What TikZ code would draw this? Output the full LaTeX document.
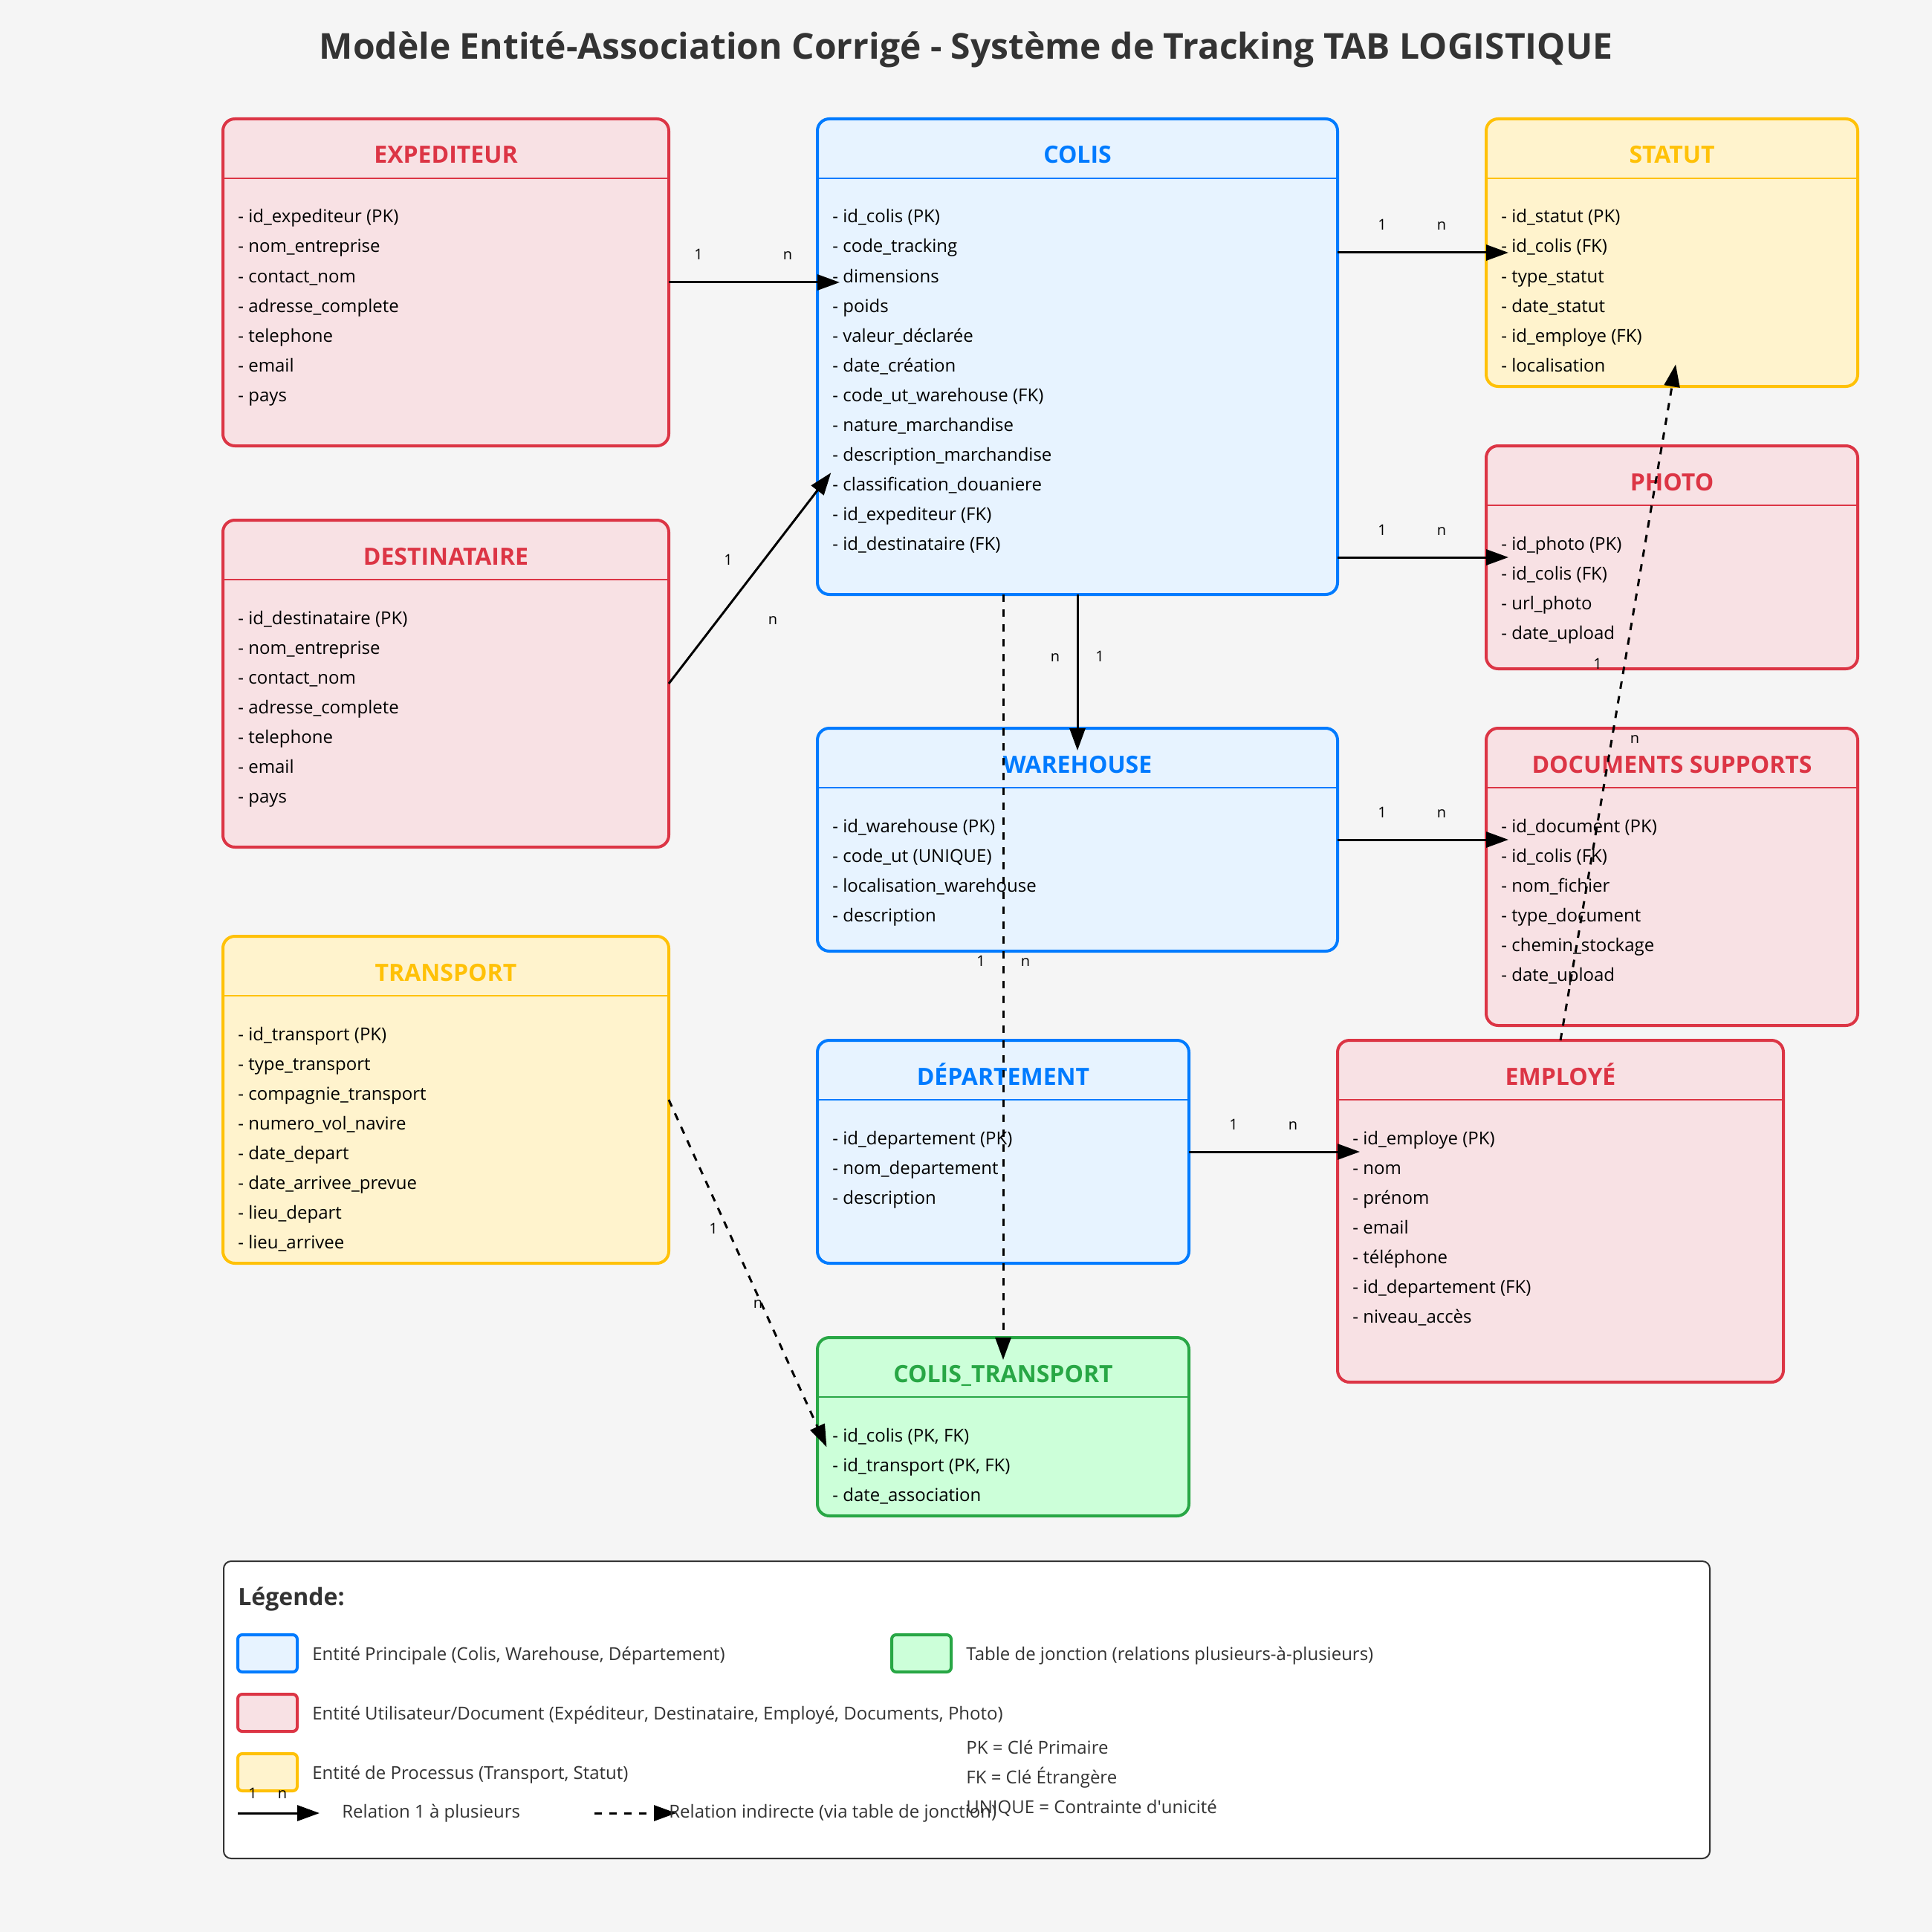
\documentclass[tikz,border=0pt]{standalone}
\usepackage{fontspec}
\setmainfont{Open Sans}
\usetikzlibrary{arrows.meta,calc}
\definecolor{fond}{HTML}{F5F5F5}
\definecolor{gris}{HTML}{333333}
\definecolor{bleu}{HTML}{007BFF}
\definecolor{bleufond}{HTML}{E7F3FF}
\definecolor{rouge}{HTML}{DC3545}
\definecolor{rougefond}{HTML}{F8E1E4}
\definecolor{jaune}{HTML}{FFC107}
\definecolor{jaunefond}{HTML}{FFF3CD}
\definecolor{vert}{HTML}{28A745}
\definecolor{vertfond}{HTML}{CCFFD9}
% name, x, y, width, height, colour, title, attributes
\newcommand{\entite}[8]{%
	\node[entite, draw=#6, fill=#6fond, minimum width=#4pt, minimum height=#5pt] (#1) at (#2,#3) {};
	\draw[#6, line width=1pt] ([yshift=-40pt]#1.north west) -- ([yshift=-40pt]#1.north east);
	\node[titre, text=#6] (#1-titre) at ([yshift=-30pt]#1.north) {#7};
	\foreach \a [count=\i] in {#8}
		\node[attribut] (#1-\i) at ([shift={(10,{70+20*(\i-1)})}]#1.north west) {- \a};
}
\begin{document}
\begin{tikzpicture}[x=1pt, y=-1pt,
		entite/.style={rectangle, rounded corners=8pt, line width=2pt, anchor=north west, inner sep=0pt, outer sep=0pt},
		titre/.style={anchor=base, inner sep=0pt, font=\bfseries\fontsize{16}{19}\selectfont},
		attribut/.style={anchor=base west, inner sep=0pt, font=\fontsize{12}{14}\selectfont},
		card/.style={anchor=base, inner sep=0pt, font=\fontsize{10}{12}\selectfont},
		rel/.style={line width=1.5pt, -{Triangle[length=15pt, width=10.5pt]}, shorten >=-15pt},
		indirect/.style={rel, dash pattern=on 5pt off 5pt},
		legtexte/.style={anchor=base west, inner sep=0pt, text=gris, font=\fontsize{12}{14}\selectfont},
		pastille/.style={rectangle, rounded corners=3pt, line width=2pt, anchor=north west, minimum width=40pt, minimum height=25pt, inner sep=0pt, outer sep=0pt}]
	\fill[fond] (0,0) rectangle (1300,1300);
	\node[anchor=base, inner sep=0pt, text=gris, font=\bfseries\fontsize{24}{28}\selectfont] (titre) at (650,40) {Modèle Entité-Association Corrigé - Système de Tracking TAB LOGISTIQUE};

	\entite{expediteur}{150}{80}{300}{220}{rouge}{EXPEDITEUR}{id\_expediteur (PK), nom\_entreprise, contact\_nom, adresse\_complete, telephone, email, pays}
	\entite{colis}{550}{80}{350}{320}{bleu}{COLIS}{id\_colis (PK), code\_tracking, dimensions, poids, valeur\_déclarée, date\_création, code\_ut\_warehouse (FK), nature\_marchandise, description\_marchandise, classification\_douaniere, id\_expediteur (FK), id\_destinataire (FK)}
	\entite{statut}{1000}{80}{250}{180}{jaune}{STATUT}{id\_statut (PK), id\_colis (FK), type\_statut, date\_statut, id\_employe (FK), localisation}
	\entite{photo}{1000}{300}{250}{150}{rouge}{PHOTO}{id\_photo (PK), id\_colis (FK), url\_photo, date\_upload}
	\entite{destinataire}{150}{350}{300}{220}{rouge}{DESTINATAIRE}{id\_destinataire (PK), nom\_entreprise, contact\_nom, adresse\_complete, telephone, email, pays}
	\entite{warehouse}{550}{490}{350}{150}{bleu}{WAREHOUSE}{id\_warehouse (PK), code\_ut (UNIQUE), localisation\_warehouse, description}
	\entite{documents}{1000}{490}{250}{200}{rouge}{DOCUMENTS SUPPORTS}{id\_document (PK), id\_colis (FK), nom\_fichier, type\_document, chemin\_stockage, date\_upload}
	\entite{transport}{150}{630}{300}{220}{jaune}{TRANSPORT}{id\_transport (PK), type\_transport, compagnie\_transport, numero\_vol\_navire, date\_depart, date\_arrivee\_prevue, lieu\_depart, lieu\_arrivee}
	\entite{departement}{550}{700}{250}{150}{bleu}{DÉPARTEMENT}{id\_departement (PK), nom\_departement, description}
	\entite{employe}{900}{700}{300}{230}{rouge}{EMPLOYÉ}{id\_employe (PK), nom, prénom, email, téléphone, id\_departement (FK), niveau\_accès}
	\entite{colistransport}{550}{900}{250}{120}{vert}{COLIS\_TRANSPORT}{{id\_colis (PK, FK)}, {id\_transport (PK, FK)}, date\_association}

	\coordinate (colis-entree) at ($(colis.north west)+(0,250)$);
	\draw[rel] (expediteur.east) -- (expediteur.east -| colis.west);
	\draw[rel] (colis.east |- statut.west) -- (statut.west);
	\draw[rel] (colis.east |- photo.west) -- (photo.west);
	\draw[rel] (destinataire.east) -- (colis-entree);
	\draw[rel] (colis.south) -- (warehouse.north);
	\draw[rel] (warehouse.east) -- (warehouse.east -| documents.west);
	\draw[rel] (departement.east) -- (departement.east -| employe.west);
	\draw[indirect] (colis.south -| colistransport.north) -- (colistransport.north);
	\draw[indirect] (transport.east) -- (colistransport.west);
	\draw[indirect] (employe.north) -- (statut.south);

	\node[card] (c-exp-1) at ($(expediteur.east)+(20,-15)$) {1};
	\node[card] (c-exp-n) at ($(expediteur.east)+(80,-15)$) {n};
	\node[card] (c-stat-1) at ($(colis.east |- statut.west)+(30,-15)$) {1};
	\node[card] (c-stat-n) at ($(colis.east |- statut.west)+(70,-15)$) {n};
	\node[card] (c-photo-1) at ($(colis.east |- photo.west)+(30,-15)$) {1};
	\node[card] (c-photo-n) at ($(colis.east |- photo.west)+(70,-15)$) {n};
	\node[card] (c-doc-1) at ($(warehouse.east)+(30,-15)$) {1};
	\node[card] (c-doc-n) at ($(warehouse.east)+(70,-15)$) {n};
	\node[card] (c-emp-1) at ($(departement.east)+(30,-15)$) {1};
	\node[card] (c-emp-n) at ($(departement.east)+(70,-15)$) {n};
	\node[card] (c-dest-1) at ($(destinataire.east)+(40,-80)$) {1};
	\node[card] (c-dest-n) at ($(destinataire.east)+(70,-40)$) {n};
	\node[card] (c-wh-n) at ($(colis.south)+(-15,45)$) {n};
	\node[card] (c-wh-1) at ($(colis.south)+(15,45)$) {1};
	\node[card] (c-ct-1) at ($(colis.south -| colistransport.north)+(-15,250)$) {1};
	\node[card] (c-ct-n) at ($(colis.south -| colistransport.north)+(15,250)$) {n};
	\node[card] (c-tr-1) at ($(transport.east)+(30,90)$) {1};
	\node[card] (c-tr-n) at ($(transport.east)+(60,140)$) {n};
	\node[card] (c-st-1) at ($(employe.north)+(25,-250)$) {1};
	\node[card] (c-st-n) at ($(employe.north)+(50,-200)$) {n};

	\node[rectangle, draw=gris, fill=white, line width=1pt, rounded corners=5pt, anchor=north west, minimum width=1000pt, minimum height=200pt, inner sep=0pt] (legende) at (150,1050) {};
	\node[anchor=base west, inner sep=0pt, text=gris, font=\bfseries\fontsize{16}{19}\selectfont] (leg-titre) at (160,1080) {Légende:};
	\node[pastille, draw=bleu, fill=bleufond] (leg-bleu) at (160,1100) {};
	\node[legtexte] (leg-bleu-txt) at (210,1117) {Entité Principale (Colis, Warehouse, Département)};
	\node[pastille, draw=vert, fill=vertfond] (leg-vert) at (600,1100) {};
	\node[legtexte] (leg-vert-txt) at (650,1117) {Table de jonction (relations plusieurs-à-plusieurs)};
	\node[pastille, draw=rouge, fill=rougefond] (leg-rouge) at (160,1140) {};
	\node[legtexte] (leg-rouge-txt) at (210,1157) {Entité Utilisateur/Document (Expéditeur, Destinataire, Employé, Documents, Photo)};
	\node[pastille, draw=jaune, fill=jaunefond] (leg-jaune) at (160,1180) {};
	\node[legtexte] (leg-jaune-txt) at (210,1197) {Entité de Processus (Transport, Statut)};
	\coordinate (leg-rel-a) at (160,1220);
	\coordinate (leg-rel-b) at (200,1220);
	\draw[rel] (leg-rel-a) -- (leg-rel-b);
	\node[card] (leg-1) at (170,1210) {1};
	\node[card] (leg-n) at (190,1210) {n};
	\node[legtexte] (leg-rel-txt) at (230,1223) {Relation 1 à plusieurs};
	\coordinate (leg-ind-a) at (400,1220);
	\coordinate (leg-ind-b) at (440,1220);
	\draw[indirect] (leg-ind-a) -- (leg-ind-b);
	\node[legtexte] (leg-ind-txt) at (450,1223) {Relation indirecte (via table de jonction)};
	\node[legtexte] (leg-pk) at (650,1180) {PK = Clé Primaire};
	\node[legtexte] (leg-fk) at (650,1200) {FK = Clé Étrangère};
	\node[legtexte] (leg-uq) at (650,1220) {UNIQUE = Contrainte d\textquotesingle unicité};
\end{tikzpicture}
\end{document}
